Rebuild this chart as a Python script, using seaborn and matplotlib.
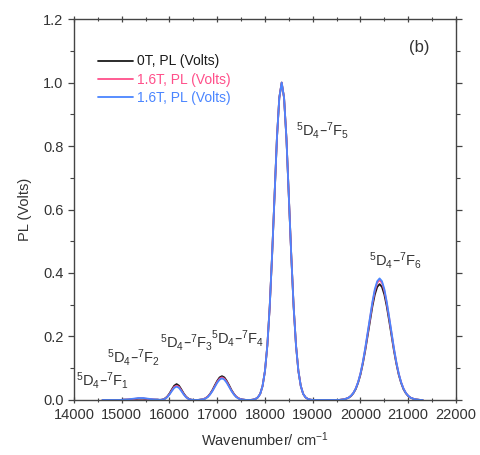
import numpy as np
import pandas as pd
import matplotlib
matplotlib.use("Agg")
import matplotlib.pyplot as plt
import seaborn as sns
from matplotlib.ticker import MultipleLocator

sns.set_theme(style="ticks")
plt.rcParams['font.family'] = ['Liberation Sans', 'DejaVu Sans']
plt.rcParams['mathtext.default'] = 'regular'

# wavenumber grid (cm^-1), 50 cm^-1 steps from 14600 to 21300
wavenumber = [
    14600, 14650, 14700, 14750, 14800, 14850, 14900, 14950,
    15000, 15050, 15100, 15150, 15200, 15250, 15300, 15350, 15400, 15450,
    15500, 15550, 15600, 15650, 15700, 15750, 15800, 15850, 15900, 15950,
    16000, 16050, 16100, 16150, 16200, 16250, 16300, 16350, 16400, 16450,
    16500, 16550, 16600, 16650, 16700, 16750, 16800, 16850, 16900, 16950,
    17000, 17050, 17100, 17150, 17200, 17250, 17300, 17350, 17400, 17450,
    17500, 17550, 17600, 17650, 17700, 17750, 17800, 17850, 17900, 17950,
    18000, 18050, 18100, 18150, 18200, 18250, 18300, 18350, 18400, 18450,
    18500, 18550, 18600, 18650, 18700, 18750, 18800, 18850, 18900, 18950,
    19000, 19050, 19100, 19150, 19200, 19250, 19300, 19350, 19400, 19450,
    19500, 19550, 19600, 19650, 19700, 19750, 19800, 19850, 19900, 19950,
    20000, 20050, 20100, 20150, 20200, 20250, 20300, 20350, 20400, 20450,
    20500, 20550, 20600, 20650, 20700, 20750, 20800, 20850, 20900, 20950,
    21000, 21050, 21100, 21150, 21200, 21250, 21300,
]

pl_0T = [
    0, 0, 0, 0, 0, 0, 0, 0,
    0, .001, .001, .001, .002, .003, .003, .004, .004, .004,
    .003, .003, .002, .001, .001, .001, 0, .001, .004, .010,
    .020, .033, .045, .050, .045, .033, .020, .010, .004, .001,
    0, 0, 0, .001, .002, .005, .010, .019, .031, .046,
    .060, .071, .075, .071, .060, .046, .031, .019, .010, .005,
    .002, .001, 0, 0, 0, .001, .003, .008, .019, .044,
    .091, .172, .295, .458, .644, .823, .952, 1.000, .952, .823,
    .644, .458, .295, .172, .091, .044, .019, .008, .003, .001,
    0, 0, 0, 0, 0, 0, 0, 0, 0, 0,
    0, 0, .001, .002, .004, .007, .012, .021, .034, .054,
    .080, .115, .156, .202, .250, .295, .332, .356, .365, .356,
    .332, .295, .250, .202, .156, .115, .080, .054, .034, .021,
    .012, .007, .004, .002, .001, 0, 0,
]

pl_16T_a = [
    0, 0, 0, 0, 0, 0, 0, 0,
    0, .001, .001, .002, .003, .003, .004, .005, .005, .005,
    .004, .003, .003, .002, .001, .001, 0, .001, .003, .009,
    .018, .030, .041, .045, .041, .030, .018, .009, .003, .001,
    0, 0, 0, .001, .002, .005, .010, .018, .029, .043,
    .057, .067, .071, .067, .057, .043, .029, .018, .010, .005,
    .002, .001, 0, 0, 0, .001, .003, .008, .019, .044,
    .091, .172, .295, .458, .644, .823, .952, 1.000, .952, .823,
    .644, .458, .295, .172, .091, .044, .019, .008, .003, .001,
    0, 0, 0, 0, 0, 0, 0, 0, 0, 0,
    0, 0, .001, .002, .004, .007, .013, .022, .036, .056,
    .083, .119, .161, .209, .259, .305, .344, .369, .378, .369,
    .344, .305, .259, .209, .161, .119, .083, .056, .036, .022,
    .013, .007, .004, .002, .001, 0, 0,
]

pl_16T_b = [
    0, 0, 0, 0, 0, 0, 0, 0,
    .0005, .001, .0015, .002, .003, .004, .005, .006, .006, .006,
    .005, .004, .003, .002, .0015, .001, .0005, .001, .003, .008,
    .017, .028, .038, .042, .038, .028, .017, .008, .003, .001,
    0, 0, 0, .001, .002, .004, .009, .017, .028, .041,
    .054, .064, .068, .064, .054, .041, .028, .017, .009, .004,
    .002, .001, 0, 0, 0, .001, .003, .008, .019, .044,
    .091, .172, .295, .458, .644, .823, .952, 1.000, .952, .823,
    .644, .458, .295, .172, .091, .044, .019, .008, .003, .001,
    0, 0, 0, 0, 0, 0, 0, 0, 0, 0,
    0, 0, .001, .002, .004, .007, .013, .022, .036, .056,
    .084, .120, .164, .212, .262, .309, .349, .374, .383, .374,
    .349, .309, .262, .212, .164, .120, .084, .056, .036, .022,
    .013, .007, .004, .002, .001, 0, 0,
]

series_labels = ["0T, PL (Volts)", "1.6T, PL (Volts)", "1.6T, PL (Volts)"]
series_colors = ["#1a1a1a", "#ff4f8a", "#4a85ff"]

transition_labels = [
    r"$^{5}$D$_{4}$–$^{7}$F$_{1}$",
    r"$^{5}$D$_{4}$–$^{7}$F$_{2}$",
    r"$^{5}$D$_{4}$–$^{7}$F$_{3}$",
    r"$^{5}$D$_{4}$–$^{7}$F$_{4}$",
    r"$^{5}$D$_{4}$–$^{7}$F$_{5}$",
    r"$^{5}$D$_{4}$–$^{7}$F$_{6}$",
]
transition_x = [14050, 14700, 15800, 16880, 18650, 20180]
transition_y = [0.062, 0.135, 0.180, 0.195, 0.850, 0.440]

fig = plt.figure(figsize=(4.8, 4.55), dpi=100)
ax = fig.add_axes([0.154, 0.121, 0.796, 0.837])

text_color = "#333333"
for ys, lab, col in zip([pl_0T, pl_16T_a, pl_16T_b], series_labels, series_colors):
    df = pd.DataFrame({"x": wavenumber, "y": ys})
    sns.lineplot(data=df, x="x", y="y", ax=ax, color=col, lw=1.3, label=lab)

ax.set_xlim(14000, 22000)
ax.set_ylim(0.0, 1.2)
ax.xaxis.set_major_locator(MultipleLocator(1000))
ax.xaxis.set_minor_locator(MultipleLocator(500))
ax.yaxis.set_major_locator(MultipleLocator(0.2))
ax.yaxis.set_minor_locator(MultipleLocator(0.1))
ax.yaxis.set_major_formatter(matplotlib.ticker.FormatStrFormatter('%.1f'))

for side in ["left", "right", "top", "bottom"]:
    ax.spines[side].set_visible(True)
    ax.spines[side].set_color("#444444")
    ax.spines[side].set_linewidth(1.0)

ax.tick_params(axis="both", which="both", top=True, right=True,
               direction="out", color="#444444", labelcolor=text_color,
               labelsize=10.5)
ax.tick_params(axis="both", which="major", length=4, width=0.9)
ax.tick_params(axis="both", which="minor", length=3, width=0.8)
ax.tick_params(axis="x", which="both", bottom=True, direction="inout")

ax.set_xlabel("Wavenumber/ cm$^{-1}$", fontsize=10.5, color=text_color, labelpad=6)
ax.set_ylabel("PL (Volts)", fontsize=10.5, color=text_color, labelpad=8)

leg = ax.legend(loc="upper left", bbox_to_anchor=(0.03, 0.94), frameon=False,
                fontsize=10, handlelength=2.5, handletextpad=0.3,
                labelspacing=0.3, labelcolor="linecolor")

ax.text(0.93, 0.925, "(b)", transform=ax.transAxes, ha="right", va="center",
        fontsize=12, color=text_color)

for lab, tx, ty in zip(transition_labels, transition_x, transition_y):
    ax.text(tx, ty, lab, ha="left", va="center", fontsize=10.5, color=text_color)

fig.savefig("out.png", dpi=100)
